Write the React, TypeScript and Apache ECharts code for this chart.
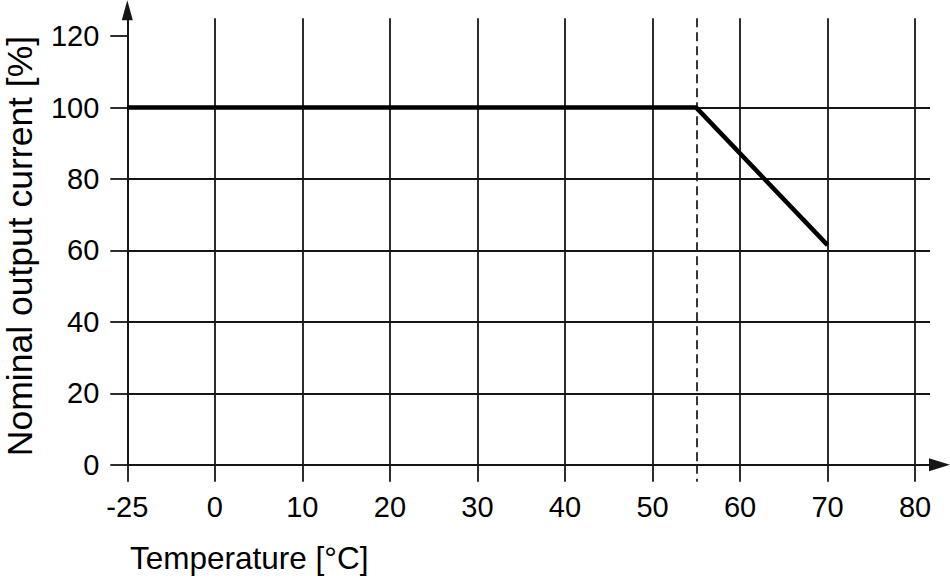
import React, { useEffect, useRef } from 'react';
import * as echarts from 'echarts';

// Derating curve: temperature [°C] vs nominal output current [%]
const temperatures = [-25, 55, 70];
const currentPercent = [100, 100, 61.5];

const xTickLabels = ['-25', '0', '10', '20', '30', '40', '50', '60', '70', '80'];
const yTickValues = [0, 20, 40, 60, 80, 100, 120];
const deratingStart = 55;

const FONT = "'Liberation Sans', Arial, Helvetica, sans-serif";
const GRID_COLOR = '#161616';

// the axis is broken below zero: -25 sits one grid step left of 0
const toAxis = (t: number) => (t < 0 ? (t * 10) / 25 : t);
const fromAxis = (v: number) => (v < 0 ? (v * 25) / 10 : v);

const App: React.FC = () => {
  const chartRef = useRef<HTMLDivElement>(null);

  useEffect(() => {
    document.body.style.margin = '0';
    if (!chartRef.current) return;

    const chart = echarts.init(chartRef.current, null, { renderer: 'svg' });

    const xTickPositions = xTickLabels.map(l => toAxis(Number(l)));
    const gridLine = { color: GRID_COLOR, width: 1.8 };
    const dashLine = { color: '#222', width: 1.8, type: [9, 5] as number[] };

    const option: echarts.EChartsOption = {
      animation: false,
      grid: {
        left: 127.3,
        right: 20,
        top: 18.3,
        bottom: 117.3,
        containLabel: false
      },
      xAxis: [
        {
          type: 'value',
          position: 'bottom',
          min: -10,
          max: 81.7,
          axisLine: {
            show: true,
            onZero: false,
            lineStyle: gridLine,
            symbol: ['none', 'triangle'],
            symbolSize: [13, 21],
            symbolOffset: [0, 9.5]
          },
          axisTick: {
            show: true,
            length: 17,
            customValues: xTickPositions,
            lineStyle: gridLine
          },
          axisLabel: {
            customValues: xTickPositions,
            formatter: (v: number) => String(Math.round(fromAxis(v))),
            fontSize: 29,
            fontFamily: FONT,
            color: '#000',
            margin: 28
          },
          splitLine: { show: true, lineStyle: gridLine }
        },
        {
          // dashed marker at the derating start
          type: 'value',
          position: 'bottom',
          min: -10,
          max: 81.7,
          axisLine: { show: false },
          axisTick: {
            show: true,
            length: 17,
            customValues: [toAxis(deratingStart)],
            lineStyle: dashLine
          },
          axisLabel: { show: false },
          splitLine: { show: true, lineStyle: dashLine }
        }
      ],
      yAxis: {
        type: 'value',
        min: 0,
        max: 125,
        axisLine: {
          show: true,
          onZero: false,
          lineStyle: gridLine,
          symbol: ['none', 'triangle'],
          symbolSize: [11, 20],
          symbolOffset: [0, 8]
        },
        axisTick: {
          show: true,
          length: 17,
          customValues: yTickValues,
          lineStyle: gridLine
        },
        axisLabel: {
          customValues: yTickValues,
          fontSize: 29,
          fontFamily: FONT,
          color: '#000',
          margin: 28
        },
        splitLine: { show: true, showMaxLine: false, lineStyle: gridLine }
      },
      graphic: [
        {
          type: 'text',
          x: 20,
          y: 246,
          rotation: Math.PI / 2,
          style: {
            text: 'Nominal output current [%]',
            font: `35.5px ${FONT}`,
            fill: '#000',
            align: 'center',
            verticalAlign: 'middle'
          }
        },
        {
          type: 'text',
          x: 130,
          y: 557.5,
          style: {
            text: 'Temperature [°C]',
            font: `31.5px ${FONT}`,
            fill: '#000',
            align: 'left',
            verticalAlign: 'middle'
          }
        }
      ],
      series: [
        {
          type: 'line',
          xAxisIndex: 0,
          data: temperatures.map((t, i) => [toAxis(t), currentPercent[i]]),
          symbol: 'none',
          lineStyle: { color: '#000', width: 4.5 },
          z: 10
        }
      ]
    };

    chart.setOption(option);

    return () => {
      chart.dispose();
    };
  }, []);

  return <div ref={chartRef} style={{ width: '950px', height: '582px' }} />;
};

export default App;
